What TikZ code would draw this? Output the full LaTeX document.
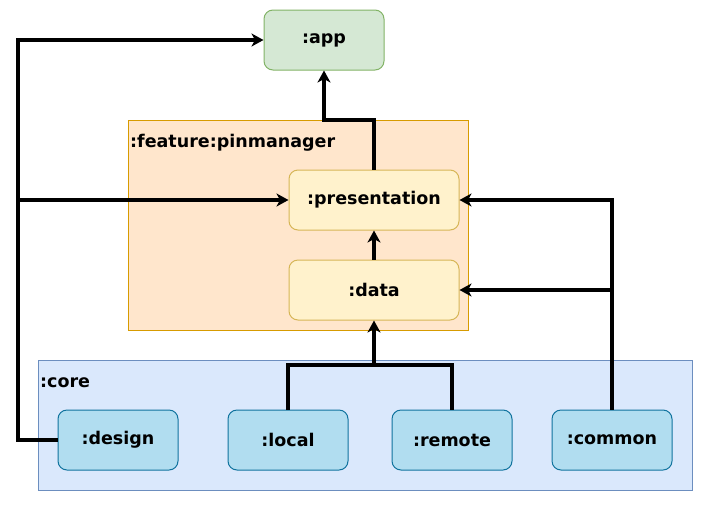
\documentclass[tikz,border=0pt]{standalone}
\usepackage{fontspec}
\setmainfont{DejaVu Sans}
\usetikzlibrary{arrows.meta}
\definecolor{appfill}{HTML}{D5E8D4}\definecolor{appdraw}{HTML}{82B366}
\definecolor{featfill}{HTML}{FFE6CC}\definecolor{featdraw}{HTML}{D79B00}
\definecolor{modfill}{HTML}{FFF2CC}\definecolor{moddraw}{HTML}{D6B656}
\definecolor{corefill}{HTML}{DAE8FC}\definecolor{coredraw}{HTML}{6C8EBF}
\definecolor{cfill}{HTML}{B1DDF0}\definecolor{cdraw}{HTML}{10739E}
\begin{document}
\begin{tikzpicture}[x=1pt,y=-1pt,
  lbl/.style={font=\fontsize{17.5}{20}\selectfont\bfseries},
  mod/.style={rounded corners=9pt,line width=1pt,lbl},
  group/.style={line width=1pt},
  conn/.style={line width=3.2pt,-{Stealth[length=12pt,width=13pt,inset=3.5pt]}},
  wire/.style={line width=3.2pt}]
\useasboundingbox (0,0) rectangle (703,509);
% groups
\draw[group,fill=featfill,draw=featdraw] (128,120) rectangle (468,330);
\node[lbl,anchor=base west,inner sep=0pt] (featlbl) at (130,147) {:feature:pinmanager};
\draw[group,fill=corefill,draw=coredraw] (38,360) rectangle (692,490);
\node[lbl,anchor=base west,inner sep=0pt] (corelbl) at (40,387) {:core};
% nodes
\node[mod,fill=appfill,draw=appdraw,minimum width=120pt,minimum height=60pt] (app) at (324,40) {:app};
\node[mod,fill=modfill,draw=moddraw,minimum width=170pt,minimum height=60pt] (pres) at (374,200) {:presentation};
\node[mod,fill=modfill,draw=moddraw,minimum width=170pt,minimum height=60pt] (data) at (374,290) {:data};
\node[mod,fill=cfill,draw=cdraw,minimum width=120pt,minimum height=60pt] (design) at (118,440) {:design};
\node[mod,fill=cfill,draw=cdraw,minimum width=120pt,minimum height=60pt] (local) at (288,440) {:local};
\node[mod,fill=cfill,draw=cdraw,minimum width=120pt,minimum height=60pt] (remote) at (452,440) {:remote};
\node[mod,fill=cfill,draw=cdraw,minimum width=120pt,minimum height=60pt] (common) at (612,440) {:common};
\coordinate (dl) at (18,440);
\coordinate (junc) at (374,365);
% connectors
\draw[conn] (pres.north) -- (374,120) -- (324,120) -- (app.south);
\draw[conn] (data.north) -- (pres.south);
\draw[conn] (design.west) -- (dl) |- (app.west);
\draw[conn] (dl) |- (pres.west);
\draw[wire] (local.north) |- (junc) -| (remote.north);
\draw[conn] (junc) -- (data.south);
\draw[conn] (common.north) |- (data.east);
\draw[conn] (common.north) |- (pres.east);
\end{tikzpicture}
\end{document}
